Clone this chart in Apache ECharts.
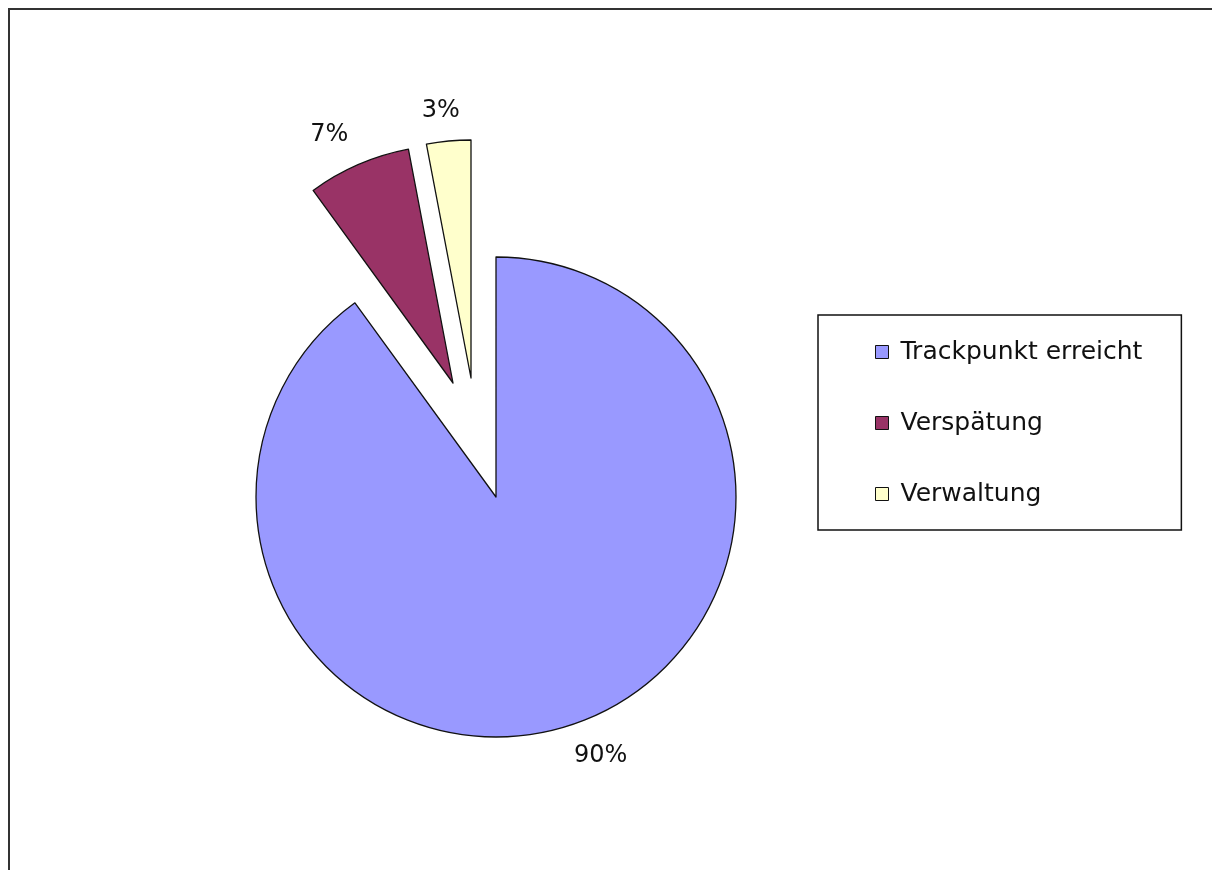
<!DOCTYPE html>
<html>
<head>
<meta charset="utf-8">
<script src="https://cdn.jsdelivr.net/npm/echarts@6/dist/echarts.min.js"></script>
<style>
html,body{margin:0;padding:0;background:#fff;}
#chart{width:1212px;height:870px;}
</style>
</head>
<body>
<div id="chart"></div>
<script>
// ---- data ----
const categories = ['Trackpunkt erreicht', 'Verspätung', 'Verwaltung'];
const values = [90, 7, 3];
const colors = ['#9999FF', '#993366', '#FFFFCC'];

// ---- layout (exploded slice centres, label distances) ----
const centers = [[496, 497], [453, 383], [471, 378]];
const labelLen = [32, 33, 30];
const labelDist = [-6, -3, -14];
const FONT = 'DejaVu Sans';

const chart = echarts.init(document.getElementById('chart'), null, {renderer: 'canvas'});

const series = categories.map((cat, s) => ({
  type: 'pie',
  name: cat,
  center: centers[s],
  radius: s === 0 ? 240 : 238,
  startAngle: 90,
  clockwise: true,
  avoidLabelOverlap: false,
  silent: true,
  animation: false,
  label: {
    show: true,
    position: 'outside',
    formatter: '{d}%',
    fontFamily: FONT,
    fontSize: 24,
    color: '#111',
    distanceToLabelLine: labelDist[s]
  },
  labelLine: {show: false, length: labelLen[s], length2: 0},
  emphasis: {disabled: true},
  data: categories.map((c, i) => ({
    name: c,
    value: values[i],
    itemStyle: i === s
      ? {color: colors[i], borderColor: '#111', borderWidth: 1.3}
      : {color: 'rgba(0,0,0,0)', borderWidth: 0},
    label: {show: i === s}
  }))
}));

chart.setOption({
  backgroundColor: '#ffffff',
  animation: false,
  legend: {
    orient: 'vertical',
    left: 818,
    top: 315,
    padding: [24, 39, 23, 57],
    itemGap: 45,
    itemWidth: 13,
    itemHeight: 13,
    borderColor: '#111',
    borderWidth: 1.5,
    selectedMode: false,
    icon: 'rect',
    textStyle: {fontFamily: FONT, fontSize: 25, lineHeight: 26, color: '#111', padding: [0, 0, 0, 7]},
    data: categories.map((c, i) => ({
      name: c,
      itemStyle: {color: colors[i], borderColor: '#111', borderWidth: 1}
    }))
  },
  graphic: [{
    type: 'rect',
    silent: true,
    shape: {x: 9, y: 9, width: 1300, height: 1000},
    style: {fill: 'none', stroke: '#333', lineWidth: 2}
  }],
  series: series
});
</script>
</body>
</html>
